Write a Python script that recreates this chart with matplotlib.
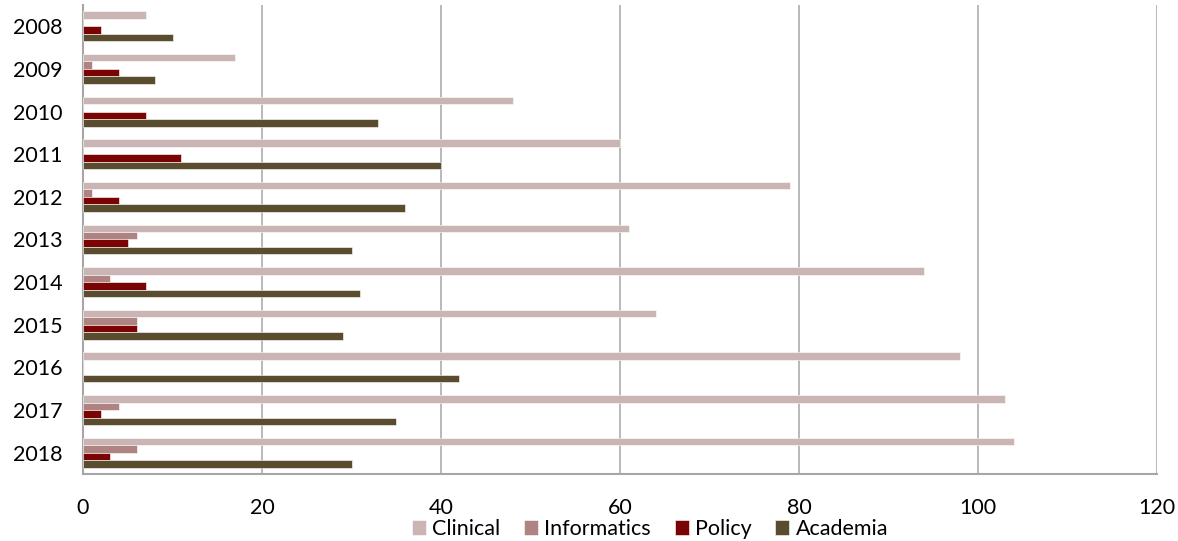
import matplotlib
matplotlib.use("Agg")
import matplotlib.pyplot as plt
import numpy as np

years = ["2008", "2009", "2010", "2011", "2012", "2013", "2014", "2015", "2016", "2017", "2018"]
clinical = [7, 17, 48, 60, 79, 61, 94, 64, 98, 103, 104]
informatics = [0, 1, 0, 0, 1, 6, 3, 6, 0, 4, 6]
policy = [2, 4, 7, 11, 4, 5, 7, 6, 0, 2, 3]
academia = [10, 8, 33, 40, 36, 30, 31, 29, 42, 35, 30]

series_names = ["Clinical", "Informatics", "Policy", "Academia"]
series_values = [clinical, informatics, policy, academia]
colors = ["#CAB4B4", "#B08383", "#7A0404", "#594C2F"]
x_ticks = [0, 20, 40, 60, 80, 100, 120]

plt.rcParams["font.family"] = ["Lato", "DejaVu Sans"]

fig = plt.figure(figsize=(11.78, 5.41), dpi=100)
ax = fig.add_axes([83 / 1178, 1 - 474 / 541, (1157 - 83) / 1178, (474 - 5) / 541])

h = 0.175
pos = np.arange(len(years))
offsets = [-1.5 * h, -0.5 * h, 0.5 * h, 1.5 * h]
for name, vals, col, off in zip(series_names, series_values, colors, offsets):
    ax.barh(pos + off, vals, height=h, color=col, label=name,
            edgecolor="white", linewidth=0.4, zorder=3)

ax.set_xlim(0, 120)
ax.set_ylim(len(years) - 0.5, -0.5)
ax.set_yticks(pos)
ax.set_yticklabels(years, fontsize=15.5)
ax.set_xticks(x_ticks)
ax.set_xticklabels([str(t) for t in x_ticks], fontsize=15.5)
ax.tick_params(axis="both", length=0, colors="black")
ax.tick_params(axis="x", pad=17)
ax.tick_params(axis="y", pad=15)

ax.grid(axis="x", color="#B3B3B3", linewidth=1.3, zorder=0)
for side in ["top", "right"]:
    ax.spines[side].set_visible(False)
for side in ["left", "bottom"]:
    ax.spines[side].set_color("#A6A6A6")
    ax.spines[side].set_linewidth(1.5)

leg = fig.legend(loc="center", bbox_to_anchor=(650 / 1178, 1 - 529 / 541), ncol=4,
                 frameon=False, fontsize=15.5, handlelength=0.65, handleheight=0.65,
                 handletextpad=0.3, columnspacing=1.1)

fig.savefig("out.png", dpi=100)
